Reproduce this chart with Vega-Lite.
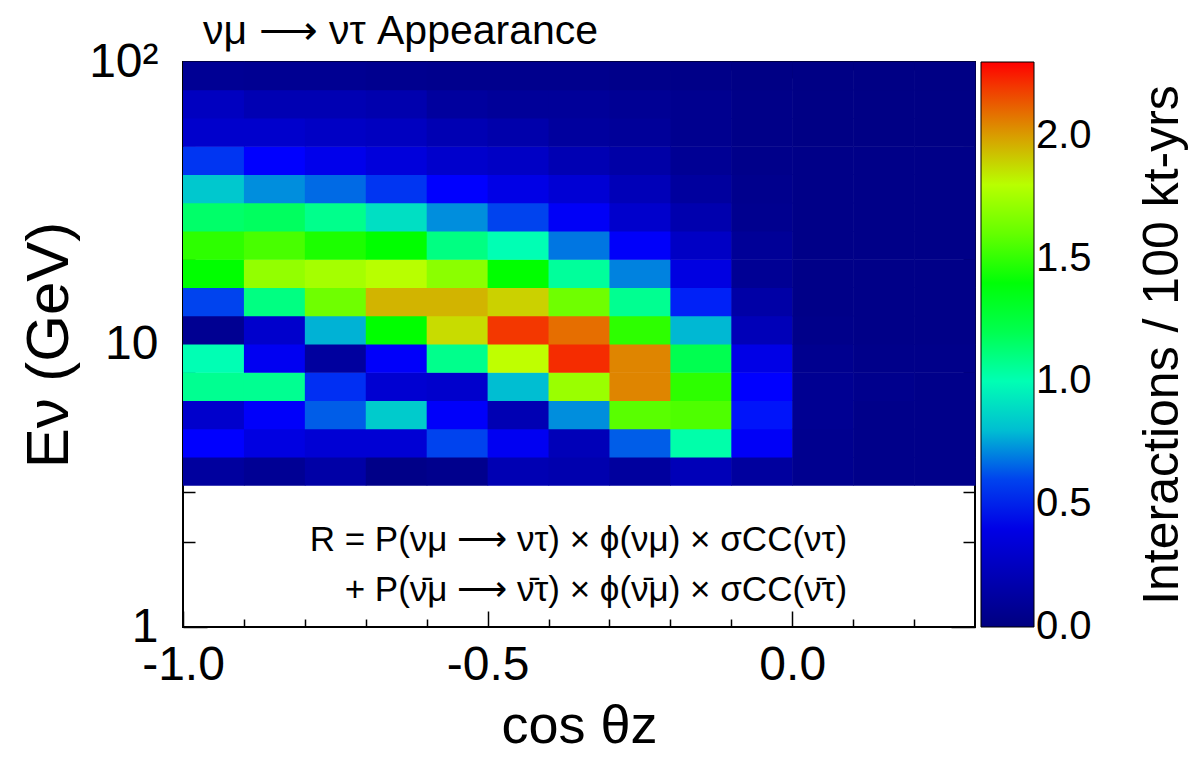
{
"$schema": "https://vega.github.io/schema/vega-lite/v6.json",
"width": 792, "height": 565,
"autosize": {"type": "none"},
"padding": {"left": 183, "top": 62, "right": 223, "bottom": 131},
"background": "white",
"config": {
  "font": "Liberation Sans",
  "view": {"stroke": "black", "strokeWidth": 2},
  "axis": {"grid": false, "domain": false, "tickColor": "black", "tickWidth": 1.5, "labelColor": "black", "titleColor": "black", "labelFont": "Liberation Sans", "titleFont": "Liberation Sans", "titleFontWeight": "normal", "labelFlush": false, "labelOverlap": false},
  "legend": {"orient": "right", "offset": 5, "padding": 0, "gradientLength": 565, "gradientThickness": 53, "labelFontSize": 40, "labelOffset": 20, "labelBaseline": "middle", "labelFont": "Liberation Sans", "labelColor": "black", "titleFontSize": 50, "titleFont": "Liberation Sans", "titleFontWeight": "normal", "titleColor": "black", "titleOrient": "right", "titleAnchor": "middle", "titleAlign": "center", "titleBaseline": "bottom", "titlePadding": 96, "titleLimit": 800, "gradientStrokeColor": "black", "gradientStrokeWidth": 1}
},
"title": {"text": "νμ ⟶ ντ Appearance", "anchor": "start", "frame": "group", "fontSize": 41, "fontWeight": "normal", "font": "Liberation Sans", "color": "black", "offset": -15, "dx": 20},
"datasets": {
"formula": [
 {"t": "R = P(νμ ⟶ ντ) × ϕ(νμ) × σCC(ντ)", "cx": 0.09, "ey": 2.03},
 {"t": "+ P(\u03bd\u0304μ ⟶ \u03bd\u0304τ) × ϕ(\u03bd\u0304μ) × σCC(\u03bd\u0304τ)", "cx": 0.09, "ey": 1.35}
],
"cells": [
{"c":-1.0,"c2":-0.9,"e":3.162,"e2":3.981,"v":0.12},{"c":-0.9,"c2":-0.8,"e":3.162,"e2":3.981,"v":0.08},{"c":-0.8,"c2":-0.7,"e":3.162,"e2":3.981,"v":0.15},{"c":-0.7,"c2":-0.6,"e":3.162,"e2":3.981,"v":0.03},{"c":-0.6,"c2":-0.5,"e":3.162,"e2":3.981,"v":0.05},{"c":-0.5,"c2":-0.4,"e":3.162,"e2":3.981,"v":0.20},{"c":-0.4,"c2":-0.3,"e":3.162,"e2":3.981,"v":0.18},{"c":-0.3,"c2":-0.2,"e":3.162,"e2":3.981,"v":0.12},{"c":-0.2,"c2":-0.1,"e":3.162,"e2":3.981,"v":0.22},{"c":-0.1,"c2":0.0,"e":3.162,"e2":3.981,"v":0.12},{"c":0.0,"c2":0.1,"e":3.162,"e2":3.981,"v":0.06},{"c":0.1,"c2":0.2,"e":3.162,"e2":3.981,"v":0.04},{"c":0.2,"c2":0.3,"e":3.162,"e2":3.981,"v":0.04},
{"c":-1.0,"c2":-0.9,"e":3.981,"e2":5.012,"v":0.50},{"c":-0.9,"c2":-0.8,"e":3.981,"e2":5.012,"v":0.38},{"c":-0.8,"c2":-0.7,"e":3.981,"e2":5.012,"v":0.33},{"c":-0.7,"c2":-0.6,"e":3.981,"e2":5.012,"v":0.33},{"c":-0.6,"c2":-0.5,"e":3.981,"e2":5.012,"v":0.60},{"c":-0.5,"c2":-0.4,"e":3.981,"e2":5.012,"v":0.45},{"c":-0.4,"c2":-0.3,"e":3.981,"e2":5.012,"v":0.22},{"c":-0.3,"c2":-0.2,"e":3.981,"e2":5.012,"v":0.64},{"c":-0.2,"c2":-0.1,"e":3.981,"e2":5.012,"v":1.02},{"c":-0.1,"c2":0.0,"e":3.981,"e2":5.012,"v":0.47},{"c":0.0,"c2":0.1,"e":3.981,"e2":5.012,"v":0.06},{"c":0.1,"c2":0.2,"e":3.981,"e2":5.012,"v":0.04},{"c":0.2,"c2":0.3,"e":3.981,"e2":5.012,"v":0.04},
{"c":-1.0,"c2":-0.9,"e":5.012,"e2":6.31,"v":0.30},{"c":-0.9,"c2":-0.8,"e":5.012,"e2":6.31,"v":0.48},{"c":-0.8,"c2":-0.7,"e":5.012,"e2":6.31,"v":0.64},{"c":-0.7,"c2":-0.6,"e":5.012,"e2":6.31,"v":0.84},{"c":-0.6,"c2":-0.5,"e":5.012,"e2":6.31,"v":0.48},{"c":-0.5,"c2":-0.4,"e":5.012,"e2":6.31,"v":0.20},{"c":-0.4,"c2":-0.3,"e":5.012,"e2":6.31,"v":0.72},{"c":-0.3,"c2":-0.2,"e":5.012,"e2":6.31,"v":1.58},{"c":-0.2,"c2":-0.1,"e":5.012,"e2":6.31,"v":1.56},{"c":-0.1,"c2":0.0,"e":5.012,"e2":6.31,"v":0.53},{"c":0.0,"c2":0.1,"e":5.012,"e2":6.31,"v":0.07},{"c":0.1,"c2":0.2,"e":5.012,"e2":6.31,"v":0.04},{"c":0.2,"c2":0.3,"e":5.012,"e2":6.31,"v":0.04},
{"c":-1.0,"c2":-0.9,"e":6.31,"e2":7.943,"v":1.07},{"c":-0.9,"c2":-0.8,"e":6.31,"e2":7.943,"v":1.07},{"c":-0.8,"c2":-0.7,"e":6.31,"e2":7.943,"v":0.57},{"c":-0.7,"c2":-0.6,"e":6.31,"e2":7.943,"v":0.32},{"c":-0.6,"c2":-0.5,"e":6.31,"e2":7.943,"v":0.30},{"c":-0.5,"c2":-0.4,"e":6.31,"e2":7.943,"v":0.80},{"c":-0.4,"c2":-0.3,"e":6.31,"e2":7.943,"v":1.72},{"c":-0.3,"c2":-0.2,"e":6.31,"e2":7.943,"v":2.05},{"c":-0.2,"c2":-0.1,"e":6.31,"e2":7.943,"v":1.50},{"c":-0.1,"c2":0.0,"e":6.31,"e2":7.943,"v":0.50},{"c":0.0,"c2":0.1,"e":6.31,"e2":7.943,"v":0.07},{"c":0.1,"c2":0.2,"e":6.31,"e2":7.943,"v":0.05},{"c":0.2,"c2":0.3,"e":6.31,"e2":7.943,"v":0.04},
{"c":-1.0,"c2":-0.9,"e":7.943,"e2":10,"v":1.00},{"c":-0.9,"c2":-0.8,"e":7.943,"e2":10,"v":0.45},{"c":-0.8,"c2":-0.7,"e":7.943,"e2":10,"v":0.12},{"c":-0.7,"c2":-0.6,"e":7.943,"e2":10,"v":0.48},{"c":-0.6,"c2":-0.5,"e":7.943,"e2":10,"v":1.08},{"c":-0.5,"c2":-0.4,"e":7.943,"e2":10,"v":1.82},{"c":-0.4,"c2":-0.3,"e":7.943,"e2":10,"v":2.22},{"c":-0.3,"c2":-0.2,"e":7.943,"e2":10,"v":2.05},{"c":-0.2,"c2":-0.1,"e":7.943,"e2":10,"v":1.20},{"c":-0.1,"c2":0.0,"e":7.943,"e2":10,"v":0.40},{"c":0.0,"c2":0.1,"e":7.943,"e2":10,"v":0.06},{"c":0.1,"c2":0.2,"e":7.943,"e2":10,"v":0.04},{"c":0.2,"c2":0.3,"e":7.943,"e2":10,"v":0.04},
{"c":-1.0,"c2":-0.9,"e":10,"e2":12.589,"v":0.07},{"c":-0.9,"c2":-0.8,"e":10,"e2":12.589,"v":0.30},{"c":-0.8,"c2":-0.7,"e":10,"e2":12.589,"v":0.78},{"c":-0.7,"c2":-0.6,"e":10,"e2":12.589,"v":1.42},{"c":-0.6,"c2":-0.5,"e":10,"e2":12.589,"v":1.88},{"c":-0.5,"c2":-0.4,"e":10,"e2":12.589,"v":2.20},{"c":-0.4,"c2":-0.3,"e":10,"e2":12.589,"v":2.10},{"c":-0.3,"c2":-0.2,"e":10,"e2":12.589,"v":1.50},{"c":-0.2,"c2":-0.1,"e":10,"e2":12.589,"v":0.79},{"c":-0.1,"c2":0.0,"e":10,"e2":12.589,"v":0.22},{"c":0.0,"c2":0.1,"e":10,"e2":12.589,"v":0.04},{"c":0.1,"c2":0.2,"e":10,"e2":12.589,"v":0.03},{"c":0.2,"c2":0.3,"e":10,"e2":12.589,"v":0.03},
{"c":-1.0,"c2":-0.9,"e":12.589,"e2":15.849,"v":0.60},{"c":-0.9,"c2":-0.8,"e":12.589,"e2":15.849,"v":1.10},{"c":-0.8,"c2":-0.7,"e":12.589,"e2":15.849,"v":1.62},{"c":-0.7,"c2":-0.6,"e":12.589,"e2":15.849,"v":1.95},{"c":-0.6,"c2":-0.5,"e":12.589,"e2":15.849,"v":1.95},{"c":-0.5,"c2":-0.4,"e":12.589,"e2":15.849,"v":1.90},{"c":-0.4,"c2":-0.3,"e":12.589,"e2":15.849,"v":1.62},{"c":-0.3,"c2":-0.2,"e":12.589,"e2":15.849,"v":1.07},{"c":-0.2,"c2":-0.1,"e":12.589,"e2":15.849,"v":0.55},{"c":-0.1,"c2":0.0,"e":12.589,"e2":15.849,"v":0.15},{"c":0.0,"c2":0.1,"e":12.589,"e2":15.849,"v":0.03},{"c":0.1,"c2":0.2,"e":12.589,"e2":15.849,"v":0.03},{"c":0.2,"c2":0.3,"e":12.589,"e2":15.849,"v":0.03},
{"c":-1.0,"c2":-0.9,"e":15.849,"e2":19.953,"v":1.42},{"c":-0.9,"c2":-0.8,"e":15.849,"e2":19.953,"v":1.70},{"c":-0.8,"c2":-0.7,"e":15.849,"e2":19.953,"v":1.75},{"c":-0.7,"c2":-0.6,"e":15.849,"e2":19.953,"v":1.80},{"c":-0.6,"c2":-0.5,"e":15.849,"e2":19.953,"v":1.68},{"c":-0.5,"c2":-0.4,"e":15.849,"e2":19.953,"v":1.42},{"c":-0.4,"c2":-0.3,"e":15.849,"e2":19.953,"v":1.05},{"c":-0.3,"c2":-0.2,"e":15.849,"e2":19.953,"v":0.70},{"c":-0.2,"c2":-0.1,"e":15.849,"e2":19.953,"v":0.38},{"c":-0.1,"c2":0.0,"e":15.849,"e2":19.953,"v":0.08},{"c":0.0,"c2":0.1,"e":15.849,"e2":19.953,"v":0.03},{"c":0.1,"c2":0.2,"e":15.849,"e2":19.953,"v":0.03},{"c":0.2,"c2":0.3,"e":15.849,"e2":19.953,"v":0.03},
{"c":-1.0,"c2":-0.9,"e":19.953,"e2":25.119,"v":1.50},{"c":-0.9,"c2":-0.8,"e":19.953,"e2":25.119,"v":1.55},{"c":-0.8,"c2":-0.7,"e":19.953,"e2":25.119,"v":1.47},{"c":-0.7,"c2":-0.6,"e":19.953,"e2":25.119,"v":1.42},{"c":-0.6,"c2":-0.5,"e":19.953,"e2":25.119,"v":1.10},{"c":-0.5,"c2":-0.4,"e":19.953,"e2":25.119,"v":1.00},{"c":-0.4,"c2":-0.3,"e":19.953,"e2":25.119,"v":0.68},{"c":-0.3,"c2":-0.2,"e":19.953,"e2":25.119,"v":0.48},{"c":-0.2,"c2":-0.1,"e":19.953,"e2":25.119,"v":0.27},{"c":-0.1,"c2":0.0,"e":19.953,"e2":25.119,"v":0.09},{"c":0.0,"c2":0.1,"e":19.953,"e2":25.119,"v":0.03},{"c":0.1,"c2":0.2,"e":19.953,"e2":25.119,"v":0.03},{"c":0.2,"c2":0.3,"e":19.953,"e2":25.119,"v":0.03},
{"c":-1.0,"c2":-0.9,"e":25.119,"e2":31.623,"v":1.15},{"c":-0.9,"c2":-0.8,"e":25.119,"e2":31.623,"v":1.17},{"c":-0.8,"c2":-0.7,"e":25.119,"e2":31.623,"v":1.08},{"c":-0.7,"c2":-0.6,"e":25.119,"e2":31.623,"v":0.90},{"c":-0.6,"c2":-0.5,"e":25.119,"e2":31.623,"v":0.72},{"c":-0.5,"c2":-0.4,"e":25.119,"e2":31.623,"v":0.60},{"c":-0.4,"c2":-0.3,"e":25.119,"e2":31.623,"v":0.47},{"c":-0.3,"c2":-0.2,"e":25.119,"e2":31.623,"v":0.30},{"c":-0.2,"c2":-0.1,"e":25.119,"e2":31.623,"v":0.18},{"c":-0.1,"c2":0.0,"e":25.119,"e2":31.623,"v":0.06},{"c":0.0,"c2":0.1,"e":25.119,"e2":31.623,"v":0.03},{"c":0.1,"c2":0.2,"e":25.119,"e2":31.623,"v":0.03},{"c":0.2,"c2":0.3,"e":25.119,"e2":31.623,"v":0.03},
{"c":-1.0,"c2":-0.9,"e":31.623,"e2":39.811,"v":0.83},{"c":-0.9,"c2":-0.8,"e":31.623,"e2":39.811,"v":0.72},{"c":-0.8,"c2":-0.7,"e":31.623,"e2":39.811,"v":0.66},{"c":-0.7,"c2":-0.6,"e":31.623,"e2":39.811,"v":0.58},{"c":-0.6,"c2":-0.5,"e":31.623,"e2":39.811,"v":0.50},{"c":-0.5,"c2":-0.4,"e":31.623,"e2":39.811,"v":0.40},{"c":-0.4,"c2":-0.3,"e":31.623,"e2":39.811,"v":0.33},{"c":-0.3,"c2":-0.2,"e":31.623,"e2":39.811,"v":0.22},{"c":-0.2,"c2":-0.1,"e":31.623,"e2":39.811,"v":0.12},{"c":-0.1,"c2":0.0,"e":31.623,"e2":39.811,"v":0.05},{"c":0.0,"c2":0.1,"e":31.623,"e2":39.811,"v":0.03},{"c":0.1,"c2":0.2,"e":31.623,"e2":39.811,"v":0.03},{"c":0.2,"c2":0.3,"e":31.623,"e2":39.811,"v":0.03},
{"c":-1.0,"c2":-0.9,"e":39.811,"e2":50.119,"v":0.58},{"c":-0.9,"c2":-0.8,"e":39.811,"e2":50.119,"v":0.50},{"c":-0.8,"c2":-0.7,"e":39.811,"e2":50.119,"v":0.42},{"c":-0.7,"c2":-0.6,"e":39.811,"e2":50.119,"v":0.36},{"c":-0.6,"c2":-0.5,"e":39.811,"e2":50.119,"v":0.30},{"c":-0.5,"c2":-0.4,"e":39.811,"e2":50.119,"v":0.27},{"c":-0.4,"c2":-0.3,"e":39.811,"e2":50.119,"v":0.20},{"c":-0.3,"c2":-0.2,"e":39.811,"e2":50.119,"v":0.15},{"c":-0.2,"c2":-0.1,"e":39.811,"e2":50.119,"v":0.08},{"c":-0.1,"c2":0.0,"e":39.811,"e2":50.119,"v":0.04},{"c":0.0,"c2":0.1,"e":39.811,"e2":50.119,"v":0.03},{"c":0.1,"c2":0.2,"e":39.811,"e2":50.119,"v":0.03},{"c":0.2,"c2":0.3,"e":39.811,"e2":50.119,"v":0.03},
{"c":-1.0,"c2":-0.9,"e":50.119,"e2":63.096,"v":0.30},{"c":-0.9,"c2":-0.8,"e":50.119,"e2":63.096,"v":0.30},{"c":-0.8,"c2":-0.7,"e":50.119,"e2":63.096,"v":0.27},{"c":-0.7,"c2":-0.6,"e":50.119,"e2":63.096,"v":0.25},{"c":-0.6,"c2":-0.5,"e":50.119,"e2":63.096,"v":0.20},{"c":-0.5,"c2":-0.4,"e":50.119,"e2":63.096,"v":0.17},{"c":-0.4,"c2":-0.3,"e":50.119,"e2":63.096,"v":0.12},{"c":-0.3,"c2":-0.2,"e":50.119,"e2":63.096,"v":0.10},{"c":-0.2,"c2":-0.1,"e":50.119,"e2":63.096,"v":0.06},{"c":-0.1,"c2":0.0,"e":50.119,"e2":63.096,"v":0.03},{"c":0.0,"c2":0.1,"e":50.119,"e2":63.096,"v":0.02},{"c":0.1,"c2":0.2,"e":50.119,"e2":63.096,"v":0.02},{"c":0.2,"c2":0.3,"e":50.119,"e2":63.096,"v":0.02},
{"c":-1.0,"c2":-0.9,"e":63.096,"e2":79.433,"v":0.25},{"c":-0.9,"c2":-0.8,"e":63.096,"e2":79.433,"v":0.20},{"c":-0.8,"c2":-0.7,"e":63.096,"e2":79.433,"v":0.20},{"c":-0.7,"c2":-0.6,"e":63.096,"e2":79.433,"v":0.18},{"c":-0.6,"c2":-0.5,"e":63.096,"e2":79.433,"v":0.12},{"c":-0.5,"c2":-0.4,"e":63.096,"e2":79.433,"v":0.10},{"c":-0.4,"c2":-0.3,"e":63.096,"e2":79.433,"v":0.10},{"c":-0.3,"c2":-0.2,"e":63.096,"e2":79.433,"v":0.08},{"c":-0.2,"c2":-0.1,"e":63.096,"e2":79.433,"v":0.06},{"c":-0.1,"c2":0.0,"e":63.096,"e2":79.433,"v":0.03},{"c":0.0,"c2":0.1,"e":63.096,"e2":79.433,"v":0.02},{"c":0.1,"c2":0.2,"e":63.096,"e2":79.433,"v":0.02},{"c":0.2,"c2":0.3,"e":63.096,"e2":79.433,"v":0.02},
{"c":-1.0,"c2":-0.9,"e":79.433,"e2":100,"v":0.08},{"c":-0.9,"c2":-0.8,"e":79.433,"e2":100,"v":0.07},{"c":-0.8,"c2":-0.7,"e":79.433,"e2":100,"v":0.07},{"c":-0.7,"c2":-0.6,"e":79.433,"e2":100,"v":0.06},{"c":-0.6,"c2":-0.5,"e":79.433,"e2":100,"v":0.05},{"c":-0.5,"c2":-0.4,"e":79.433,"e2":100,"v":0.05},{"c":-0.4,"c2":-0.3,"e":79.433,"e2":100,"v":0.05},{"c":-0.3,"c2":-0.2,"e":79.433,"e2":100,"v":0.04},{"c":-0.2,"c2":-0.1,"e":79.433,"e2":100,"v":0.03},{"c":-0.1,"c2":0.0,"e":79.433,"e2":100,"v":0.02},{"c":0.0,"c2":0.1,"e":79.433,"e2":100,"v":0.02},{"c":0.1,"c2":0.2,"e":79.433,"e2":100,"v":0.02},{"c":0.2,"c2":0.3,"e":79.433,"e2":100,"v":0.02}
]
},
"layer": [
 {
  "data": {"name": "cells"},
  "mark": {"type": "rect", "x2Offset": 0.6, "y2Offset": -0.6},
  "encoding": {
   "x": {"field": "c", "type": "quantitative", "scale": {"domain": [-1, 0.3], "nice": false, "zero": false},
         "axis": {"orient": "bottom", "values": [-1, -0.5, 0], "labelExpr": "datum.value == -1 ? '-1.0' : datum.value == -0.5 ? '-0.5' : '0.0'", "tickSize": -16, "labelPadding": 30, "labelFontSize": 48, "title": "cos θz", "titleFontSize": 54, "titlePadding": 10}},
   "x2": {"field": "c2"},
   "y": {"field": "e", "type": "quantitative", "scale": {"type": "log", "domain": [1, 100], "nice": false},
         "axis": {"orient": "left", "values": [1, 10, 100], "labelExpr": "datum.value == 100 ? '10²' : datum.value == 10 ? '10' : '1'", "tickSize": -24, "labelPadding": 49, "labelFontSize": 48, "title": "Eν (GeV)", "titleFontSize": 60, "titlePadding": 8}},
   "y2": {"field": "e2"},
   "color": {"field": "v", "type": "quantitative",
     "scale": {"type": "linear", "domain": [0, 0.5, 0.65, 0.8, 1.0, 1.2, 1.42, 1.65, 1.82, 1.95, 2.1, 2.3], "range": ["#000080", "#0000ff", "#0064e6", "#00bed2", "#00ffb4", "#00ff50", "#00ff00", "#80ff00", "#bfff00", "#d2b400", "#e66e00", "#ff0000"], "interpolate": "rgb"},
     "legend": {"title": "Interactions / 100 kt-yrs", "values": [0, 0.5, 1, 1.5, 2], "format": ".1f", "direction": "vertical", "encode": {"labels": {"update": {"baseline": {"value": "middle"}}}, "title": {"update": {"angle": {"value": 270}, "baseline": {"value": "bottom"}}}}}}
  }
 },
 {
  "data": {"name": "cells"},
  "mark": {"type": "rect", "opacity": 0},
  "encoding": {
   "x": {"field": "c", "type": "quantitative", "scale": {"domain": [-1, 0.3], "nice": false, "zero": false},
         "axis": {"orient": "bottom", "values": [-0.9, -0.8, -0.7, -0.6, -0.4, -0.3, -0.2, -0.1, 0.1, 0.2], "tickSize": -8, "labels": false, "title": null}},
   "x2": {"field": "c2"},
   "y": {"field": "e", "type": "quantitative", "scale": {"type": "log", "domain": [1, 100], "nice": false},
         "axis": {"orient": "left", "values": [2, 3, 4, 5, 6, 7, 8, 9, 20, 30, 40, 50, 60, 70, 80, 90], "tickSize": -12, "labels": false, "title": null}},
   "y2": {"field": "e2"}
  }
 },
 {
  "data": {"name": "cells"},
  "mark": {"type": "rect", "opacity": 0},
  "encoding": {
   "x": {"field": "c", "type": "quantitative", "scale": {"domain": [-1, 0.3], "nice": false, "zero": false},
         "axis": {"orient": "top", "values": [-1, -0.5, 0], "tickSize": -16, "labels": false, "title": null}},
   "x2": {"field": "c2"},
   "y": {"field": "e", "type": "quantitative", "scale": {"type": "log", "domain": [1, 100], "nice": false},
         "axis": {"orient": "right", "values": [1, 10, 100], "tickSize": -24, "labels": false, "title": null}},
   "y2": {"field": "e2"}
  }
 },
 {
  "data": {"name": "cells"},
  "mark": {"type": "rect", "opacity": 0},
  "encoding": {
   "x": {"field": "c", "type": "quantitative", "scale": {"domain": [-1, 0.3], "nice": false, "zero": false},
         "axis": {"orient": "top", "values": [-0.9, -0.8, -0.7, -0.6, -0.4, -0.3, -0.2, -0.1, 0.1, 0.2], "tickSize": -8, "labels": false, "title": null}},
   "x2": {"field": "c2"},
   "y": {"field": "e", "type": "quantitative", "scale": {"type": "log", "domain": [1, 100], "nice": false},
         "axis": {"orient": "right", "values": [2, 3, 4, 5, 6, 7, 8, 9, 20, 30, 40, 50, 60, 70, 80, 90], "tickSize": -12, "labels": false, "title": null}},
   "y2": {"field": "e2"}
  }
 },
 {
  "data": {"name": "formula"},
  "mark": {"type": "text", "align": "right", "baseline": "middle", "fontSize": 35, "font": "Liberation Sans", "color": "black"},
  "encoding": {
   "x": {"field": "cx", "type": "quantitative", "scale": {"domain": [-1, 0.3], "nice": false, "zero": false}, "axis": null},
   "y": {"field": "ey", "type": "quantitative", "scale": {"type": "log", "domain": [1, 100], "nice": false}, "axis": null},
   "text": {"field": "t"}
  }
 }
],
"resolve": {"axis": {"x": "independent", "y": "independent"}}
}
